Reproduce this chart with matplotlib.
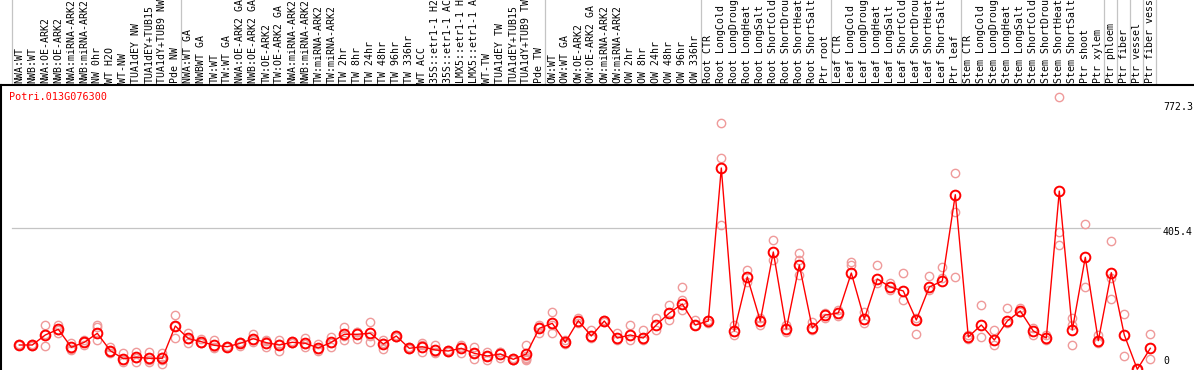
import matplotlib
matplotlib.use("Agg")
import matplotlib.pyplot as plt
from matplotlib.lines import Line2D
from matplotlib.transforms import blended_transform_factory

# sample names shown along the header (rotated), as cut to 14 characters in the chart
labels = [
    "NWA:WT", "NWB:WT", "NWA:OE-ARK2", "NWB:OE-ARK2", "NWA:miRNA-ARK2", "NWB:miRNA-ARK2",
    "NW 0hr", "WT H2O", "WT-NW", "TUA1dEY NW", "TUA1dEY+TUB15", "TUA1dY+TUB9 NW", "Pde NW",
    "NWA:WT GA", "NWBWT GA", "TW:WT", "TW:WT GA", "NWA:OE-ARK2 GA", "NWB:OE-ARK2 GA",
    "TW:OE-ARK2", "TW:OE-ARK2 GA", "NWA:miRNA-ARK2", "NWB:miRNA-ARK2", "TW:miRNA-ARK2",
    "TW:miRNA-ARK2", "TW 2hr", "TW 8hr", "TW 24hr", "TW 48hr", "TW 96hr", "TW 336hr",
    "WT ACC", "35S::etr1-1 H2", "35S::etr1-1 AC", "LMX5::etr1-1 H", "LMX5::etr1-1 A",
    "WT-TW", "TUA1dEY TW", "TUA1dEY+TUB15", "TUA1dY+TUB9 TW", "Pde TW",
    "OW:WT", "OW:WT GA", "OW:OE-ARK2", "OW:OE-ARK2 GA", "OW:miRNA-ARK2", "OW:miRNA-ARK2",
    "OW 2hr", "OW 8hr", "OW 24hr", "OW 48hr", "OW 96hr", "OW 336hr",
    "Root CTR", "Root LongCold", "Root LongDroug", "Root LongHeat", "Root LongSalt",
    "Root ShortCold", "Root ShortDrou", "Root ShortHeat", "Root ShortSalt", "Ptr root",
    "Leaf CTR", "Leaf LongCold", "Leaf LongDroug", "Leaf LongHeat", "Leaf LongSalt",
    "Leaf ShortCold", "Leaf ShortDrou", "Leaf ShortHeat", "Leaf ShortSalt", "Ptr leaf",
    "Stem CTR", "Stem LongCold", "Stem LongDroug", "Stem LongHeat", "Stem LongSalt",
    "Stem ShortCold", "Stem ShortDrou", "Stem ShortHeat", "Stem ShortSalt",
    "Ptr shoot", "Ptr xylem", "Ptr phloem", "Ptr fiber", "Ptr vessel", "Ptr fiber vess",
]

# mean expression per sample
means = [
    63.1, 63.1, 92.5, 109.2, 56.4, 71.0, 97.4, 46.4, 22.9, 27.0,
    24.1, 24.1, 118.9, 82.2, 72.8, 62.2, 58.1, 68.1, 81.6, 69.9,
    63.1, 71.0, 68.1, 54.3, 71.0, 94.5, 94.5, 97.4, 66.0, 89.5,
    53.4, 58.1, 48.4, 45.5, 53.4, 38.7, 30.8, 36.7, 21.1, 36.7,
    112.1, 126.8, 71.0, 134.4, 89.5, 133.5, 83.6, 92.5, 83.6, 121.8,
    157.0, 183.4, 121.8, 133.5, 582.6, 104.2, 262.7, 133.5, 336.1, 110.1,
    297.9, 113.0, 151.1, 157.0, 274.4, 139.4, 256.8, 233.3, 221.6, 136.5,
    233.3, 250.9, 504.2, 86.6, 121.8, 77.8, 133.5, 162.9, 104.2, 83.6,
    514.8, 107.1, 320.5, 75.7, 275.3, 92.5, -8.2, 53.4,
]

# individual replicates per sample
replicates = [
    [62, 65, 63], [61, 65, 63], [121.8, 60.2, 95], [121.8, 98.3, 108], [69, 48.4, 52],
    [77.8, 63.1, 72], [121.8, 115.9, 77.8], [58.1, 38.7, 44], [39.6, 14.1, 18], [43.4, 14.1, 24],
    [43.4, 14.1, 20], [39.6, 7.3, 20, 28], [151.1, 82.8, 120], [99.2, 68.1, 80], [80.7, 68.1, 70],
    [77.8, 56.4, 53], [60.2, 56.4, 58], [72.8, 60.2, 70], [95.4, 77.8, 72], [77.8, 56.4, 75],
    [77.8, 45.5, 66], [75.7, 68.1, 69], [82.8, 56.4, 65], [66, 46.4, 50], [85.7, 58.1, 69],
    [116.8, 77.8, 89], [102.1, 79.8, 101.6], [129.7, 72.8, 90], [77.8, 68.1, 52], [92.5, 87.5, 88],
    [56.4, 50.5, 53], [68.1, 43.4, 63], [63.1, 38.7, 43], [48.4, 43.4, 45], [63.1, 58.1, 39],
    [56.4, 21.1, 38.7], [43.4, 19.1, 30], [43.4, 24.1, 42], [24.1, 19.1, 20], [63.1, 24.1, 20, 22, 30],
    [121.8, 99.2, 115], [160.8, 97.4, 122], [77.8, 68.1, 67], [142.3, 127.7], [107.1, 83.6],
    [136.5, 130.6], [98.3, 77.8], [121.8, 77.8], [107.1, 77.8], [142.3, 107.1],
    [180.5, 136.5], [233.3, 195.2, 165.8], [136.5, 121.8], [136.5, 127.7], [714.7, 612.0, 415.3],
    [121.8, 92.5], [283.2, 248.0], [142.3, 121.8], [371.3, 312.6], [121.8, 101.3],
    [333.1, 312.6, 268.6], [130.6, 107.1], [157.0, 142.3], [165.8, 148.2], [306.7, 297.9],
    [160.0, 127.7], [297.9, 245.1], [245.1, 224.5], [274.4, 195.2], [142.3, 95.4],
    [265.6, 224.5], [292.0, 259.7], [567.9, 453.5, 262.7], [92.5, 80.7], [180.5, 86.6],
    [107.1, 63.1], [171.7, 127.7], [171.7, 160.0], [113.0, 92.5], [92.5, 77.8],
    [791.0, 395.6, 356.6], [141.5, 121.8, 63.1], [418.2, 232.5], [92.5, 72.8, 68.1],
    [367.5, 258.9, 198.1], [153.2, 30.8], [-7.3, -7.3], [94.5, 21.1],
]

gene = "Potri.013G076300"
ytick_vals = [772.3, 405.4, 0]
ytick_text = ["772.3", "405.4", "0"]
grid_vals = [405.4]
group_lines = [-0.6, 12.4, 40.4, 52.4, 62.4, 72.4, 83.4, 84.4, 85.4, 86.4, 87.4]

W, H = 1194, 370
HEADER = 85
fig = plt.figure(figsize=(W / 100, H / 100), dpi=100)
ax = fig.add_axes([1 / W, 0, 1 - 1 / W, (H - HEADER) / H])
ax.set_xlim((1 - 19.3) / 13, (W - 19.3) / 13)
ax.set_ylim(-10.3, 826.2)
ax.set_xticks([])
ax.set_yticks([])
for s in ["right", "bottom"]:
    ax.spines[s].set_visible(False)
ax.spines["top"].set_linewidth(1.5)
ax.spines["left"].set_linewidth(1.5)

mono = "DejaVu Sans Mono"
grey = "#c4c4c4"

# group separators run through the header too
tr = blended_transform_factory(ax.transData, fig.transFigure)
for gx in group_lines:
    fig.add_artist(Line2D([gx, gx], [0, 1], transform=tr, color=grey, lw=0.9, zorder=0))

for v in grid_vals:
    ax.plot([-0.6, 87.75], [v, v], color=grey, lw=0.9, zorder=0)

# header labels
for i, lab in enumerate(labels):
    fig.text(i, (H - 83) / H, lab, transform=tr, rotation=90, ha="center", va="bottom",
             family=mono, fontsize=7.1, color="black")

# right side value labels, a little below their level (the 0 sits above the edge)
ytr = blended_transform_factory(fig.transFigure, ax.transData)
for v, t in zip(ytick_vals, ytick_text):
    px = ax.transData.transform((0, v))[1]
    py = px - 4 if v > 0 else px + 5
    fig.text(1163 / W, py / H, t, ha="left", va="center",
             family=mono, fontsize=7.1, color="black")

# replicate points
for i, reps in enumerate(replicates):
    ax.plot([i] * len(reps), reps, "o", mfc="none", mec="#ef9a9a", ms=6, mew=1.0, zorder=2)

x = list(range(len(means)))
ax.plot(x, means, "-", color="red", lw=1.0, zorder=3)
ax.plot(x, means, "o", mfc="none", mec="red", ms=7, mew=1.4, zorder=4)

ax.text(9.5 / W, (H - 97) / H, gene, transform=fig.transFigure, color="red",
        family=mono, fontsize=7.3, ha="left", va="center")

fig.savefig("out.png", dpi=100)
